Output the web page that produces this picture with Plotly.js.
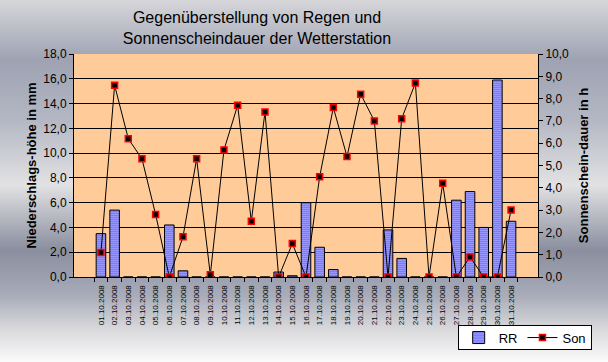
<!DOCTYPE html>
<html>
<head>
<meta charset="utf-8">
<script src="https://cdn.plot.ly/plotly-3.0.1.min.js"></script>
<style>
html, body { margin:0; padding:0; }
body {
  width:608px; height:362px; overflow:hidden;
  background: linear-gradient(to bottom,
    #d6d6da 0px, #9ea2b2 60px, #b4b7c3 120px, #e2e2e4 185px,
    #8a8e9e 250px, #a8abb8 295px, #dadadd 330px, #fafafa 362px);
}
#chart { width:608px; height:362px; }
</style>
</head>
<body>
<div id="chart"></div>
<script>
var dates = ["01.10.2008","02.10.2008","03.10.2008","04.10.2008","05.10.2008","06.10.2008","07.10.2008","08.10.2008","09.10.2008","10.10.2008","11.10.2008","12.10.2008","13.10.2008","14.10.2008","15.10.2008","16.10.2008","17.10.2008","18.10.2008","19.10.2008","20.10.2008","21.10.2008","22.10.2008","23.10.2008","24.10.2008","25.10.2008","26.10.2008","27.10.2008","28.10.2008","29.10.2008","30.10.2008","31.10.2008"];
var rr = [3.5,5.4,0,0,0,4.2,0.5,0,0,0,0,0,0,0.4,0.1,6.0,2.4,0.6,0,0,0,3.8,1.5,0,0,0,6.2,6.9,4.0,15.9,4.5];
var son = [1.1,8.6,6.2,5.3,2.8,0.0,1.8,5.3,0.1,5.7,7.7,2.5,7.4,0.0,1.5,0.0,4.5,7.6,5.4,8.2,7.0,0.0,7.1,8.7,0.0,4.2,0.0,0.9,0.0,0.0,3.0];

var font = "Liberation Sans, Arial, sans-serif";

var traces = [
  {
    type: "bar", name: "RR", x: dates, y: rr,
    marker: {
      color: "#ffffff",
      line: {color: "#000000", width: 1},
      pattern: {shape: ".", fgcolor: "#1a1aff", bgcolor: "#ffffff", size: 2, solidity: 0.6, fillmode: "replace"}
    },
    hoverinfo: "x+y"
  },
  {
    type: "scatter", mode: "lines+markers", name: "Son", x: dates, y: son, yaxis: "y2",
    line: {color: "#000000", width: 1},
    marker: {symbol: "square", size: 6, color: "#000000", line: {color: "#ff0000", width: 1.5}}
  }
];

var layout = {
  width: 608, height: 362,
  margin: {l: 74, r: 70, t: 54, b: 80},
  paper_bgcolor: "rgba(0,0,0,0)",
  plot_bgcolor: "#ffcc99",
  separators: ",.",
  font: {family: font, size: 12, color: "#000000"},
  title: {
    text: "Gegenüberstellung von Regen und<br>Sonnenscheindauer der Wetterstation",
    font: {family: font, size: 16, color: "#000000"},
    x: 257/608, xref: "container", xanchor: "center",
    y: 1 - 23/362, yref: "container", yanchor: "top"
  },
  bargap: 0.3,
  showlegend: true,
  legend: {
    orientation: "h",
    x: 1.1157, xanchor: "right",
    y: -0.3276, yanchor: "bottom",
    bgcolor: "#ffffff", bordercolor: "#000000", borderwidth: 1,
    tracegroupgap: 0,
    font: {family: font, size: 13, color: "#000000"}
  },
  xaxis: {
    type: "category",
    tickson: "boundaries",
    ticks: "outside", ticklen: 4, tickcolor: "#000000",
    showline: true, linecolor: "#000000", linewidth: 1,
    showgrid: false, zeroline: false,
    tickangle: -90,
    ticklabelstandoff: 4,
    tickfont: {family: font, size: 8, color: "#000000"},
    automargin: false
  },
  yaxis: {
    range: [0, 18], dtick: 2, tickformat: ".1f",
    ticks: "outside", ticklen: 4, tickcolor: "#000000",
    showline: true, linecolor: "#000000", linewidth: 1,
    showgrid: true, gridcolor: "#000000", gridwidth: 1,
    zeroline: false,
    tickfont: {family: font, size: 12, color: "#000000"},
    title: {text: "Niederschlags-höhe in mm", font: {family: font, size: 13, color: "#000000", weight: "bold"}, standoff: 3},
    automargin: false
  },
  yaxis2: {
    overlaying: "y", side: "right",
    range: [0, 10], dtick: 1, tickformat: ".1f",
    ticks: "outside", ticklen: 4, tickcolor: "#000000",
    showline: true, linecolor: "#000000", linewidth: 1,
    showgrid: false, zeroline: false,
    tickfont: {family: font, size: 12, color: "#000000"},
    title: {text: "Sonnenschein-dauer in h", font: {family: font, size: 13, color: "#000000", weight: "bold"}, standoff: 10},
    automargin: false
  }
};

Plotly.newPlot("chart", traces, layout, {displayModeBar: false, staticPlot: true}).then(function (gd) {
  // tighten the legend box to the compact height of the original chart
  try {
    var leg = gd.querySelector(".legend");
    var bg = leg.querySelector("rect.bg");
    var H = parseFloat(bg.getAttribute("height"));
    var y0 = parseFloat(bg.getAttribute("y") || "0");
    var newH = 24;
    if (H > newH) {
      bg.setAttribute("y", y0 + (H - newH));
      bg.setAttribute("height", newH);
      var sb = leg.querySelector(".scrollbox");
      var bb = sb.getBBox();
      var center = bb.y + bb.height / 2;
      var target = y0 + (H - newH) + newH / 2;
      sb.setAttribute("transform", "translate(0," + (target - center) + ")");
    }
  } catch (e) {}
});
</script>
</body>
</html>
